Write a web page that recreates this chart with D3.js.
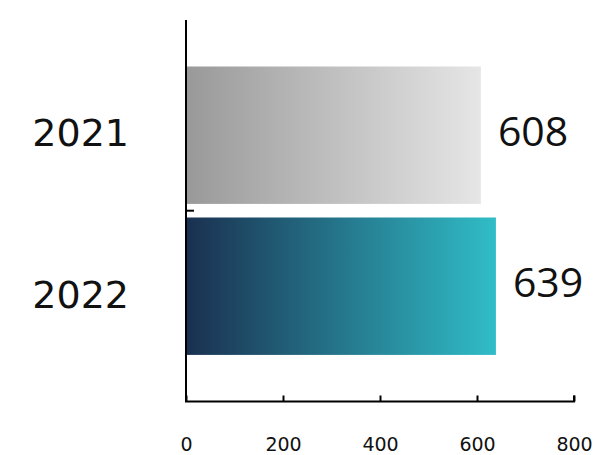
<!DOCTYPE html>
<html>
<head>
<meta charset="utf-8">
<script src="https://cdn.jsdelivr.net/npm/d3@7"></script>
<style>
html,body{margin:0;padding:0;background:#fff;}
</style>
</head>
<body>
<svg id="chart" width="594" height="455"></svg>
<script>
const categories = ["2021", "2022"];
const values = [608, 639];
const xTicks = [0, 200, 400, 600, 800];
const gradStops = [["#999999", "#e6e6e6"], ["#1a3050", "#30bdc7"]];

const svg = d3.select("#chart");
const x = d3.scaleLinear().domain([0, 800]).range([186, 574]);
const y = d3.scaleBand().domain(categories).range([59.7, 361.7]).paddingInner(0.09).paddingOuter(0.045);
// baseline positions for the category labels
const yLab = d3.scalePoint().domain(categories).range([146, 308]);

const defs = svg.append("defs");
categories.forEach((c, i) => {
  const g = defs.append("linearGradient").attr("id", "g" + i)
    .attr("x1", "0%").attr("x2", "100%").attr("y1", "0%").attr("y2", "0%");
  g.append("stop").attr("offset", "0%").attr("stop-color", gradStops[i][0]);
  g.append("stop").attr("offset", "100%").attr("stop-color", gradStops[i][1]);
});

svg.selectAll("rect.bar").data(categories).enter().append("rect")
  .attr("class", "bar")
  .attr("x", x(0))
  .attr("y", d => y(d))
  .attr("width", (d, i) => x(values[i]) - x(0))
  .attr("height", y.bandwidth())
  .attr("fill", (d, i) => `url(#g${i})`);

// x axis
const xAxis = svg.append("g").attr("transform", "translate(0,401.5)")
  .call(d3.axisBottom(x).tickValues(xTicks).tickSize(-6).tickPadding(0).tickFormat(d3.format("d")));
xAxis.select(".domain").attr("stroke", "#000").attr("stroke-width", 2).attr("d", `M${x(0)},-6V0H${x(800)}V-6`);
xAxis.selectAll(".tick line").attr("stroke", "#000").attr("stroke-width", 2);
xAxis.selectAll(".tick text").attr("y", 49).attr("dy", "0")
  .attr("font-family", "DejaVu Sans").attr("font-size", 19).attr("fill", "#111");

// y axis line
const yTop = 20, yBot = 402;
svg.append("line").attr("x1", x(0)).attr("x2", x(0)).attr("y1", yTop).attr("y2", yBot)
  .attr("stroke", "#000").attr("stroke-width", 2);
// single tick between bands
const midY = (y(categories[0]) + y.bandwidth() + y(categories[1])) / 2;
svg.append("line").attr("x1", x(0)).attr("x2", x(0) + 8).attr("y1", midY).attr("y2", midY)
  .attr("stroke", "#000").attr("stroke-width", 2);

// category labels
svg.selectAll("text.cat").data(categories).enter().append("text")
  .attr("class", "cat")
  .attr("x", 129)
  .attr("y", d => yLab(d))
  .attr("text-anchor", "end")
  .attr("font-family", "DejaVu Sans")
  .attr("font-size", 38)
  .attr("fill", "#111")
  .text(d => d);

// value labels
svg.selectAll("text.val").data(categories).enter().append("text")
  .attr("class", "val")
  .attr("x", (d, i) => x(values[i]) + 17)
  .attr("y", d => y(d) + y.bandwidth() / 2)
  .attr("dy", 11)
  .attr("font-family", "Open Sans")
  .attr("font-size", 41)
  .attr("fill", "#111")
  .text((d, i) => values[i]);
</script>
</body>
</html>
